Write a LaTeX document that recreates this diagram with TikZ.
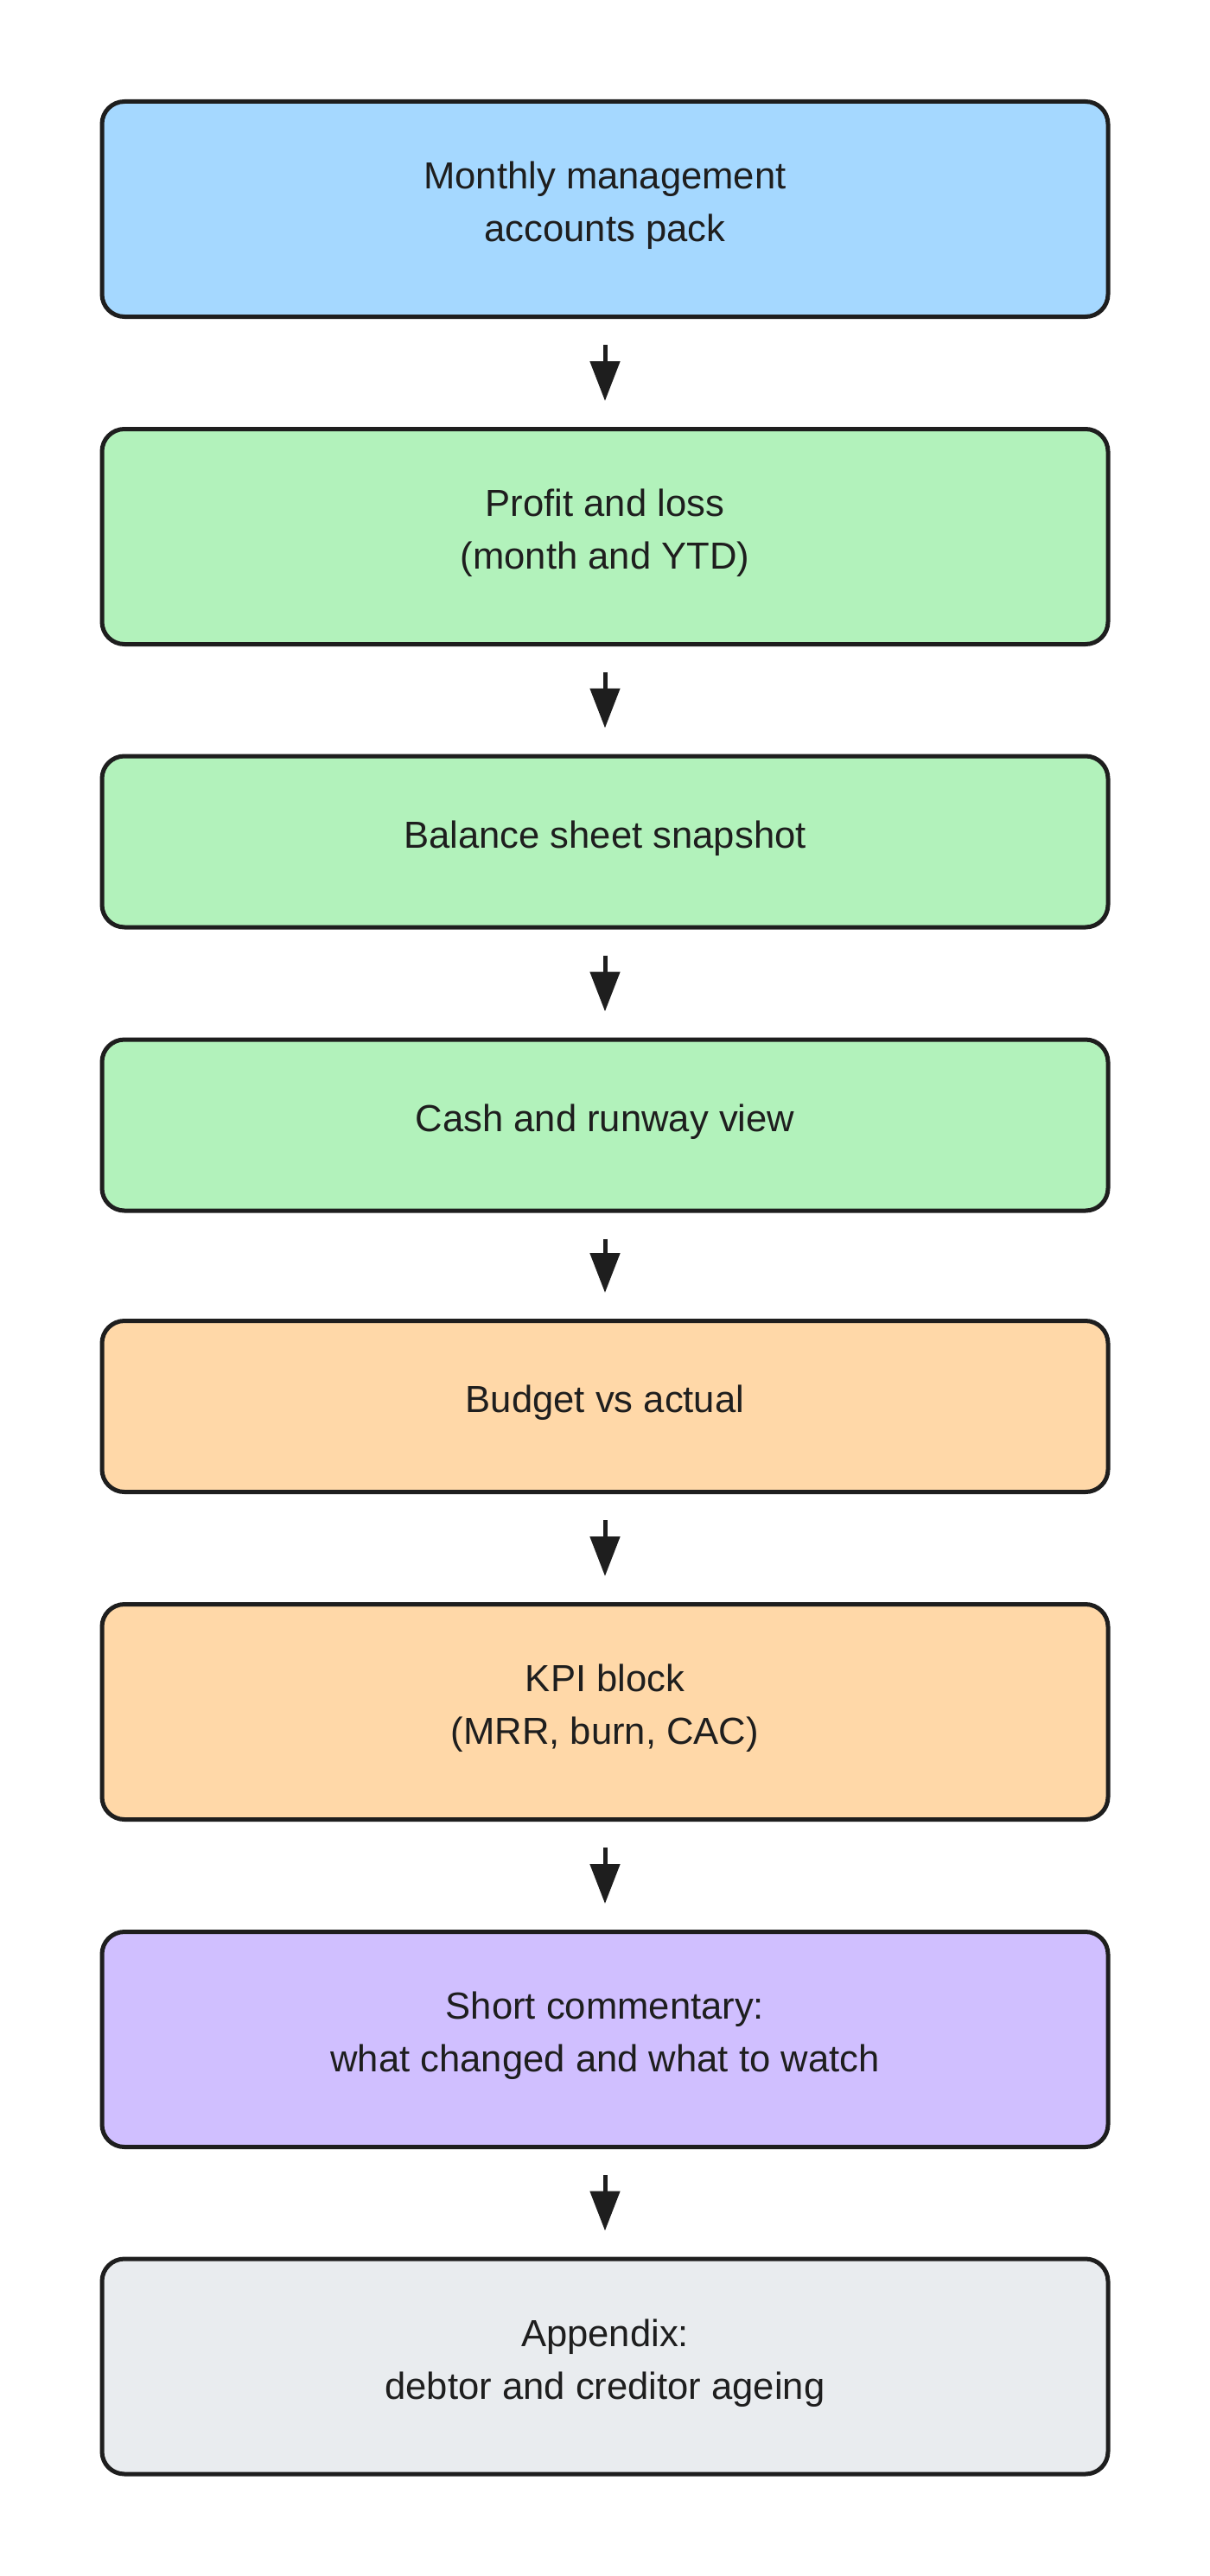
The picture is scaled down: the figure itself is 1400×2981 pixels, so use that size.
\documentclass[tikz,border=0pt]{standalone}
\usepackage{fontspec}
\setmainfont{Liberation Sans}
\usetikzlibrary{arrows.meta}
\definecolor{ink}{HTML}{1E1E1E}
\definecolor{cblue}{HTML}{A5D8FF}
\definecolor{cgreen}{HTML}{B2F2BB}
\definecolor{corange}{HTML}{FFD8A8}
\definecolor{cpurple}{HTML}{D0BFFF}
\definecolor{cgray}{HTML}{E9ECEF}
\tikzset{
  stepbox/.style={draw=ink, line width=2.5pt, rounded corners=13pt,
    minimum width=582pt, inner sep=0pt},
  tall/.style={minimum height=124.5pt},
  short/.style={minimum height=99pt},
  txt/.style={text=ink, align=center, inner sep=0pt, yshift=2pt,
    font=\fontsize{21.8pt}{30.5pt}\selectfont},
  arr/.style={draw=ink, line width=2.5pt, shorten <=15pt, shorten >=15pt,
    -{Triangle[length=23pt, width=17pt]}}
}
\begin{document}
\begin{tikzpicture}[x=0.5pt, y=-0.5pt]
\useasboundingbox[fill=white] (0,0) rectangle (1400,2981);
\node[stepbox, tall, fill=cblue, label={[txt]center:{Monthly management\\accounts pack}}] (b1) at (700,242) {};
\node[stepbox, tall, fill=cgreen, label={[txt]center:{Profit and loss\\(month and YTD)}}] (b2) at (700,621) {};
\node[stepbox, short, fill=cgreen, label={[txt]center:{Balance sheet snapshot}}] (b3) at (700,974) {};
\node[stepbox, short, fill=cgreen, label={[txt]center:{Cash and runway view}}] (b4) at (700,1302) {};
\node[stepbox, short, fill=corange, label={[txt]center:{Budget vs actual}}] (b5) at (700,1627.5) {};
\node[stepbox, tall, fill=corange, label={[txt]center:{KPI block\\(MRR, burn, CAC)}}] (b6) at (700,1981) {};
\node[stepbox, tall, fill=cpurple, label={[txt]center:{Short commentary:\\what changed and what to watch}}] (b7) at (700,2360) {};
\node[stepbox, tall, fill=cgray, label={[txt]center:{Appendix:\\debtor and creditor ageing}}] (b8) at (700,2738.5) {};
\draw[arr] (b1) -- (b2);
\draw[arr] (b2) -- (b3);
\draw[arr] (b3) -- (b4);
\draw[arr] (b4) -- (b5);
\draw[arr] (b5) -- (b6);
\draw[arr] (b6) -- (b7);
\draw[arr] (b7) -- (b8);
\end{tikzpicture}
\end{document}
